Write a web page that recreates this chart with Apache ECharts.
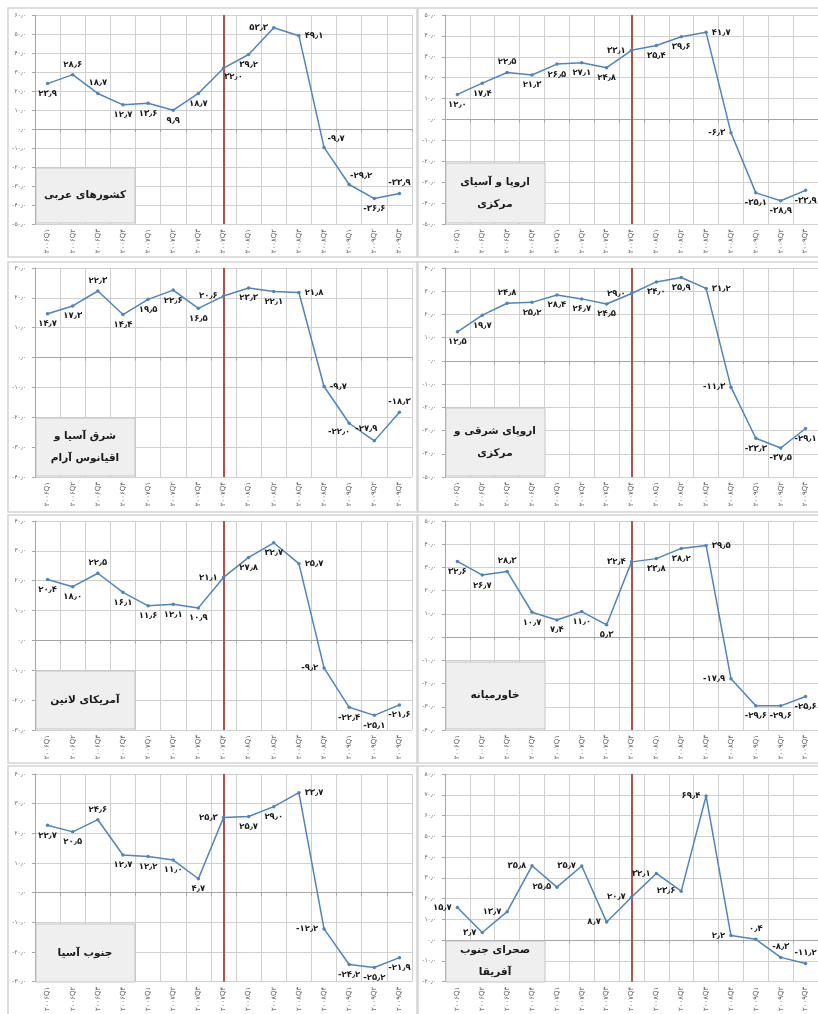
<!DOCTYPE html>
<html><head><meta charset="utf-8">
<script src="https://cdn.jsdelivr.net/npm/echarts@6/dist/echarts.min.js"></script>
<style>html,body{margin:0;padding:0;background:#fff}#c{width:818px;height:1014px}</style>
</head><body><div id="c"></div>
<script>
// ---------- data ----------
const quarters = ['۲۰۰۶Q۱','۲۰۰۶Q۲','۲۰۰۶Q۳','۲۰۰۶Q۴','۲۰۰۷Q۱','۲۰۰۷Q۲','۲۰۰۷Q۳','۲۰۰۷Q۴',
                  '۲۰۰۸Q۱','۲۰۰۸Q۲','۲۰۰۸Q۳','۲۰۰۸Q۴','۲۰۰۹Q۱','۲۰۰۹Q۲','۲۰۰۹Q۳'];
const markQuarter = '۲۰۰۷Q۴';

const arabCountries        = [23.9, 28.6, 18.7, 12.7, 13.6, 9.9, 18.7, 32.0, 39.2, 53.3, 49.1, -9.7, -29.2, -36.6, -33.9];
const europeCentralAsia    = [12.0, 17.4, 22.5, 21.3, 26.5, 27.1, 24.8, 33.1, 35.4, 39.6, 41.7, -6.3, -35.1, -38.9, -33.9];
const eastAsiaPacific      = [14.7, 17.3, 22.3, 14.4, 19.5, 22.6, 16.5, 20.6, 23.3, 22.1, 21.8, -9.7, -22.0, -27.9, -18.3];
const easternCentralEurope = [12.5, 19.7, 24.8, 25.2, 28.4, 26.7, 24.5, 29.0, 34.0, 35.9, 31.2, -11.3, -33.3, -37.5, -29.1];
const latinAmerica         = [20.4, 18.0, 22.5, 16.1, 11.6, 12.1, 10.9, 21.1, 27.8, 32.7, 25.7, -9.2, -22.4, -25.1, -21.6];
const middleEast           = [32.6, 26.7, 28.3, 10.7, 7.4, 11.0, 5.3, 32.4, 33.8, 38.2, 39.5, -17.9, -29.6, -29.6, -25.6];
const southAsia            = [22.7, 20.5, 24.6, 12.7, 12.2, 11.0, 4.7, 25.3, 25.7, 29.0, 33.7, -12.2, -24.2, -25.2, -21.9];
const subSaharanAfrica     = [15.7, 3.7, 13.7, 35.8, 25.5, 35.7, 8.7, 20.7, 32.1, 23.6, 69.4, 2.2, 0.4, -8.3, -11.2];

const panelTitles = ['کشورهای عربی', 'اروپا و آسیای\nمرکزی', 'شرق آسیا و\nاقیانوس آرام', 'اروپای شرقی و\nمرکزی',
                     'آمریکای لاتین', 'خاورمیانه', 'جنوب آسیا', 'صحرای جنوب\nآفریقا'];
const panelSeries = [arabCountries, europeCentralAsia, eastAsiaPacific, easternCentralEurope,
                     latinAmerica, middleEast, southAsia, subSaharanAfrica];
const yMins = [-50, -50, -40, -50, -30, -40, -30, -20];
const yMaxs = [ 60,  50,  30,  40,  40,  50,  40,  80];

// ---------- label placement (style) ----------
const labelPlacement = [
  ['b','t','t','b','b','b','b','br','b','l','r','tr','tr','b','t'],
  ['b','b','t','b','b','b','b','l','b','b','r','l','b','b','b'],
  ['b','b','t','b','b','b','b','l','b','b','r','r','bl','tl','t'],
  ['b','b','t','b','b','b','b','l','b','b','r','l','b','b','b'],
  ['b','b','t','b','b','b','b','l','b','b','r','l','b','b','b'],
  ['b','b','t','b','b','b','b','l','b','b','r','l','b','b','b'],
  ['b','b','t','b','b','b','b','l','b','b','r','l','b','b','b'],
  ['l','l','l','l','l','l','l','l','l','l','l','l','t','t','t']
];

// ---------- layout (style) ----------
const colX = [0, 410];
const gridTops = [15, 268, 521, 774];
const gridH = 209;
const borderTops = [8, 262, 515, 766];
const borderHs = [249, 250, 248, 250];
const boxHs = [55, 60, 58, 68, 58, 67, 58, 41];

const fa = s => String(s).replace(/[0-9]/g, d => '۰۱۲۳۴۵۶۷۸۹'[d]).replace('.', '٫');
const fmt = v => fa(Number(v).toFixed(1));

function labelCfg(p) {
  const m = {
    t: ['top', [0, 0]], b: ['bottom', [0, 0]], l: ['left', [0, 0]], r: ['right', [0, 0]],
    tr: ['top', [12, 2]], br: ['bottom', [10, -2]], bl: ['bottom', [-10, -2]], tl: ['top', [-8, -2]]
  }[p];
  return { position: m[0], offset: m[1] };
}

const grids = [], xAxes = [], yAxes = [], series = [], graphics = [];
for (let i = 0; i < 8; i++) {
  const col = i % 2, row = Math.floor(i / 2);
  const gl = colX[col] + 35, gt = gridTops[row];
  grids.push({ left: gl, top: gt, width: 377, height: gridH });
  xAxes.push({
    type: 'category', gridIndex: i, data: quarters, boundaryGap: true,
    axisLine: { lineStyle: { color: '#a6a6a6' } },
    axisTick: { show: true, length: 3, lineStyle: { color: '#a6a6a6' } },
    axisLabel: { interval: 0, rotate: 90, fontSize: 7, color: '#555', margin: 5, fontFamily: 'DejaVu Sans' },
    splitLine: { show: true, lineStyle: { color: '#d0d0d0', width: 1 } }
  });
  yAxes.push({
    type: 'value', gridIndex: i, min: yMins[i], max: yMaxs[i], interval: 10,
    axisLine: { show: true, lineStyle: { color: '#a6a6a6' } },
    axisTick: { show: true, length: 3, lineStyle: { color: '#a6a6a6' } },
    axisLabel: { fontSize: 6, color: '#666', margin: 9, formatter: fmt, fontFamily: 'DejaVu Sans' },
    splitLine: { show: true, lineStyle: { color: '#d0d0d0', width: 1 } }
  });
  series.push({
    type: 'line', xAxisIndex: i, yAxisIndex: i,
    data: panelSeries[i].map((v, j) => ({ value: v, label: labelCfg(labelPlacement[i][j]) })),
    symbol: 'circle', symbolSize: 3.5,
    lineStyle: { color: '#4f84bf', width: 1.5 },
    itemStyle: { color: '#4f84bf' },
    label: { show: true, fontSize: 8.5, fontWeight: 'bold', color: '#1a1a1a', distance: 4,
             fontFamily: 'DejaVu Sans', formatter: p => fmt(p.value) },
    markLine: {
      silent: true, symbol: 'none', label: { show: false },
      lineStyle: { color: '#b0524a', width: 2, type: 'solid' },
      data: [{ xAxis: markQuarter }]
    },
    z: 5
  });
  // panel border
  graphics.push({
    type: 'rect', z: 1, silent: true,
    shape: { x: colX[col] + 8, y: borderTops[row], width: 409, height: borderHs[row] },
    style: { fill: 'none', stroke: '#d4d4d4', lineWidth: 1.5 }
  });
  // title box
  const bh = boxHs[i], by = gt + gridH - 1 - bh;
  graphics.push({
    type: 'rect', z: 10, silent: true,
    shape: { x: gl + 1, y: by, width: 99, height: bh },
    style: { fill: '#efefef', stroke: '#c4c4c4', lineWidth: 1 }
  });
  graphics.push({
    type: 'text', z: 11, silent: true,
    x: gl + 50, y: by + bh / 2,
    style: { text: panelTitles[i], fill: '#1a1a1a', font: 'bold 10.5px "DejaVu Sans"',
             align: 'center', verticalAlign: 'middle', lineHeight: 22 }
  });
}

const chart = echarts.init(document.getElementById('c'), null, { renderer: 'canvas' });
chart.setOption({
  animation: false,
  backgroundColor: '#fff',
  grid: grids, xAxis: xAxes, yAxis: yAxes, series: series, graphic: graphics
});
</script>
</body></html>
